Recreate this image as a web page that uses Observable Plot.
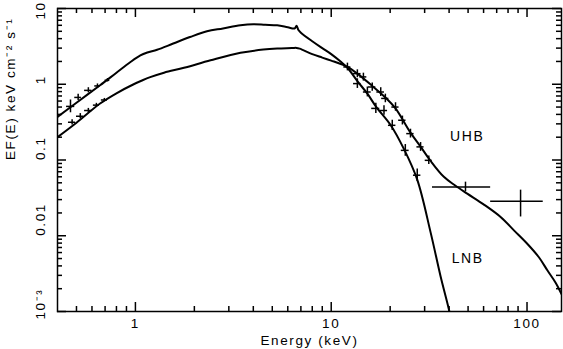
<!DOCTYPE html>
<html><head><meta charset="utf-8">
<script src="https://cdn.jsdelivr.net/npm/d3@7"></script>
<script src="https://cdn.jsdelivr.net/npm/@observablehq/plot@0.6"></script>
<style>body{margin:0;background:#fff}</style>
</head><body><div id="chart"></div>
<script>
// ---- model curves ----
const lnbModelE = [0.40,0.50,0.66,0.80,0.94,1.06,1.15,1.29,1.56,1.90,2.32,2.80,3.44,4.0,4.6,5.3,6.0,6.5,6.65,6.8,7.0,8.0,9.0,10.0,11.2,12.1,13.6,15.3,17.0,20.1,23.5,27.5,32.2,36.2,40.3,41.0];
const lnbModelV = [0.37,0.57,0.97,1.42,1.95,2.4,2.62,2.85,3.45,4.2,5.0,5.45,6.0,6.2,6.1,6.0,5.65,5.45,5.9,5.2,4.8,3.7,3.0,2.5,1.98,1.65,1.1,0.75,0.50,0.29,0.14,0.055,0.011,0.0029,0.00095,0.0007];
const uhbModelE = [0.40,0.50,0.66,0.80,0.98,1.08,1.19,1.40,1.77,2.42,3.44,4.5,5.3,6.3,6.65,6.9,8.0,9.0,10.0,11.2,12.1,13.6,16.2,18.9,21.3,25.4,28.6,32.2,37.6,43,49.5,60,73.3,86,100,115,127,140,150];
const uhbModelV = [0.20,0.31,0.556,0.76,1.0,1.12,1.24,1.42,1.65,2.07,2.6,2.87,2.96,3.0,3.02,2.95,2.5,2.25,2.05,1.85,1.70,1.38,0.95,0.67,0.48,0.23,0.15,0.097,0.060,0.046,0.036,0.026,0.0177,0.0117,0.0079,0.0052,0.0035,0.0024,0.0017];

// ---- data points with error bars ----
const lnbPtE   = [0.466,0.51,0.575,0.64,0.72, 13.6,15.3,16.9,18.6,20.5,23.9,27.5];
const lnbPtV   = [0.51,0.67,0.83,0.95,1.13, 1.02,0.79,0.48,0.45,0.287,0.134,0.063];
const lnbPtElo = [0.445,0.49,0.55,0.62,0.70, 13.0,14.6,16.1,17.8,19.6,22.8,26.3];
const lnbPtEhi = [0.49,0.53,0.60,0.66,0.74, 14.2,16.0,17.7,19.4,21.4,25.0,28.7];
const lnbPtVlo = [0.42,0.61,0.77,0.89,1.07, 0.88,0.68,0.41,0.39,0.245,0.112,0.052];
const lnbPtVhi = [0.62,0.74,0.90,1.01,1.19, 1.18,0.92,0.56,0.52,0.335,0.16,0.076];

const uhbPtE   = [0.475,0.523,0.575,0.632,0.694, 12.1,13.6,14.6,16.2,17.9,18.9,21.3,23.1,25.4,28.6,31.5,48.5,92.7];
const uhbPtV   = [0.315,0.378,0.45,0.53,0.62, 1.69,1.38,1.25,0.92,0.79,0.65,0.50,0.335,0.223,0.149,0.099,0.044,0.0285];
const uhbPtElo = [0.455,0.50,0.55,0.61,0.67, 11.6,13.0,14.0,15.5,17.1,18.1,20.4,22.1,24.3,27.4,30.2,32.9,65.2];
const uhbPtEhi = [0.495,0.545,0.60,0.655,0.72, 12.6,14.2,15.2,16.9,18.7,19.7,22.2,24.1,26.5,29.8,32.8,65.2,121];
const uhbPtVlo = [0.29,0.35,0.42,0.50,0.59, 1.5,1.22,1.1,0.81,0.69,0.57,0.44,0.29,0.195,0.13,0.087,0.038,0.0177];
const uhbPtVhi = [0.34,0.41,0.48,0.56,0.65, 1.9,1.55,1.4,1.04,0.9,0.74,0.57,0.38,0.255,0.17,0.113,0.051,0.040];

// ---- labels / ticks ----
const xMajorTicks = [1, 10, 100];
const xTickLabels = ["1", "10", "100"];
const yMajorTicks = [0.01, 0.1, 1];
const yTickLabels = ["0.01", "0.1", "1"];
const yTopTick = [10];
const yTopLabel = ["10"];
const yBottomTick = [0.001];
const yBottomLabel = ["10⁻³"];
const yAllMajor = [0.001, 0.01, 0.1, 1, 10];
const xTitle = "Energy (keV)";
const yTitle = "EF(E) keV cm⁻² s⁻¹";
const curveNames = ["UHB", "LNB"];
const curveLabelE = [49.5, 49.8];
const curveLabelV = [0.206, 0.005];

// build tables
const model = (E, V) => E.map((e, i) => ({e, v: V[i]}));
const pts = (E, V, elo, ehi, vlo, vhi) => E.map((e, i) => ({e, v: V[i], elo: elo[i], ehi: ehi[i], vlo: vlo[i], vhi: vhi[i]}));
const lnbModel = model(lnbModelE, lnbModelV);
const uhbModel = model(uhbModelE, uhbModelV);
const points = [...pts(lnbPtE, lnbPtV, lnbPtElo, lnbPtEhi, lnbPtVlo, lnbPtVhi),
                ...pts(uhbPtE, uhbPtV, uhbPtElo, uhbPtEhi, uhbPtVlo, uhbPtVhi)];

const xDomain = [0.4, 150], yDomain = [1e-3, 10];
const minor = (dom) => {
  const out = [];
  for (let p = -4; p <= 3; p++) for (let m = 2; m <= 9; m++) {
    const v = m * Math.pow(10, p);
    if (v > dom[0] * 1.0001 && v < dom[1] * 0.9999) out.push(v);
  }
  return out;
};
const xMinor = minor(xDomain), yMinor = minor(yDomain);

const W = 563, H = 349, mL = 57, mR = 2, mT = 8, mB = 38;
const fw = W - mL - mR, fh = H - mT - mB;
const majLen = 9, minLen = 5;
const tk = {stroke: "#000", strokeWidth: 1.5};

const chart = Plot.plot({
  width: W, height: H,
  marginLeft: mL, marginRight: mR, marginTop: mT, marginBottom: mB,
  style: {fontFamily: "'Liberation Sans', Arial, sans-serif", fontSize: "13.5px", letterSpacing: "1.6px", background: "#fff", color: "#000"},
  x: {type: "log", domain: xDomain, axis: null},
  y: {type: "log", domain: yDomain, axis: null},
  marks: [
    Plot.frame({stroke: "#000", strokeWidth: 1.5}),
    // inward ticks on all four sides
    Plot.ruleX(xMajorTicks, {x: d => d, insetTop: fh - majLen, ...tk}),
    Plot.ruleX(xMajorTicks, {x: d => d, insetBottom: fh - majLen, ...tk}),
    Plot.ruleX(xMinor, {x: d => d, insetTop: fh - minLen, ...tk}),
    Plot.ruleX(xMinor, {x: d => d, insetBottom: fh - minLen, ...tk}),
    Plot.ruleY(yAllMajor, {y: d => d, insetRight: fw - majLen, ...tk}),
    Plot.ruleY(yAllMajor, {y: d => d, insetLeft: fw - majLen, ...tk}),
    Plot.ruleY(yMinor, {y: d => d, insetRight: fw - minLen, ...tk}),
    Plot.ruleY(yMinor, {y: d => d, insetLeft: fw - minLen, ...tk}),
    // models
    Plot.line(lnbModel, {x: "e", y: "v", curve: "catmull-rom", stroke: "#000", strokeWidth: 2, clip: true}),
    Plot.line(uhbModel, {x: "e", y: "v", curve: "catmull-rom", stroke: "#000", strokeWidth: 2, clip: true}),
    // error bars
    Plot.ruleY(points, {y: "v", x1: "elo", x2: "ehi", stroke: "#000", strokeWidth: 1.5, clip: true}),
    Plot.ruleX(points, {x: "e", y1: "vlo", y2: "vhi", stroke: "#000", strokeWidth: 1.5, clip: true}),
    // curve labels
    Plot.text(curveNames, {x: (d, i) => curveLabelE[i], y: (d, i) => curveLabelV[i], text: d => d, fontSize: 14, fill: "#000"}),
    // tick labels
    Plot.text(xMajorTicks, {x: d => d, frameAnchor: "bottom", dy: 12, text: (d, i) => xTickLabels[i], lineAnchor: "middle", fill: "#000"}),
    Plot.text(yMajorTicks, {y: d => d, frameAnchor: "left", dx: -17, rotate: -90, text: (d, i) => yTickLabels[i], lineAnchor: "middle", fill: "#000"}),
    Plot.text(yTopTick, {y: d => d, frameAnchor: "left", dx: -17, dy: 11, rotate: -90, text: (d, i) => yTopLabel[i], lineAnchor: "middle", fill: "#000"}),
    Plot.text(yBottomTick, {y: d => d, frameAnchor: "left", dx: -17, dy: 8, rotate: -90, text: (d, i) => yBottomLabel[i], lineAnchor: "middle", fill: "#000"}),
    // axis titles
    Plot.text([xTitle], {frameAnchor: "bottom", dy: 29, text: d => d, lineAnchor: "middle", fill: "#000"}),
    Plot.text([yTitle], {frameAnchor: "left", dx: -47, rotate: -90, text: d => d, lineAnchor: "middle", fill: "#000"})
  ]
});
document.getElementById("chart").appendChild(chart);
</script>
</body></html>
